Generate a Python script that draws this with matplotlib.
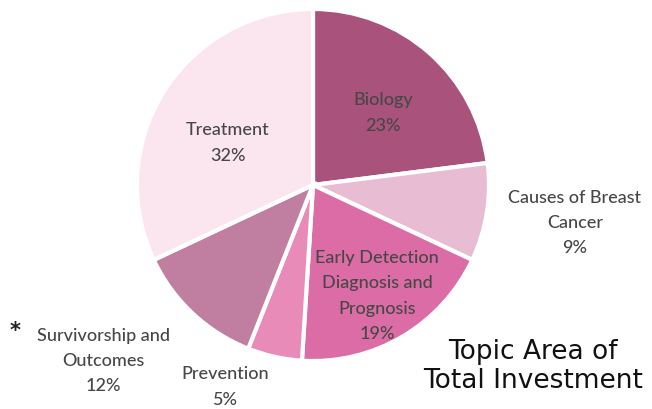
import matplotlib
matplotlib.use("Agg")
import matplotlib.pyplot as plt

categories = ["Biology", "Causes of Breast\nCancer", "Early Detection\nDiagnosis and\nPrognosis",
              "Prevention", "Survivorship and\nOutcomes", "Treatment"]
values = [23, 9, 19, 5, 12, 32]
colors = ["#A8527C", "#E8BDD3", "#DC6CA6", "#E88BB8", "#C07FA0", "#FBE6F0"]
title_lines = ["Topic Area of", "Total Investment"]

W, H = 652, 410
fig = plt.figure(figsize=(W / 100, H / 100), dpi=100)
ax = fig.add_axes([0, 0, 1, 1])

cx, cy, r = 313, H - 186, 176
ax.pie(values, colors=colors, startangle=90, counterclock=False,
       center=(cx, cy), radius=r, explode=[0.015] * len(values),
       wedgeprops=dict(edgecolor="white", linewidth=3), frame=True)
ax.set_xlim(0, W)
ax.set_ylim(0, H)
ax.set_aspect("equal")
ax.axis("off")

# label positions (pixel coords of text centre)
label_pos = [(383, 113), (575, 223), (377, 296), (225, 387), (103, 361), (228, 143)]
lfont = dict(family=["Lato", "DejaVu Sans"], fontsize=13, weight="medium", color="#474747",
             ha="center", va="center", linespacing=1.7)
for lab, v, (x, y) in zip(categories, values, label_pos):
    ax.text(x, H - y, f"{lab}\n{v}%", **lfont)

ax.text(15, H - 331, "*", family="DejaVu Sans", fontsize=15, weight="bold", color="#222222",
        ha="center", va="center")

for i, line in enumerate(title_lines):
    ax.text(533, H - (352 + 29 * i), line, family="DejaVu Sans", fontsize=19,
            weight="normal", color="#111111", ha="center", va="center")

fig.savefig("out.png", dpi=100)
